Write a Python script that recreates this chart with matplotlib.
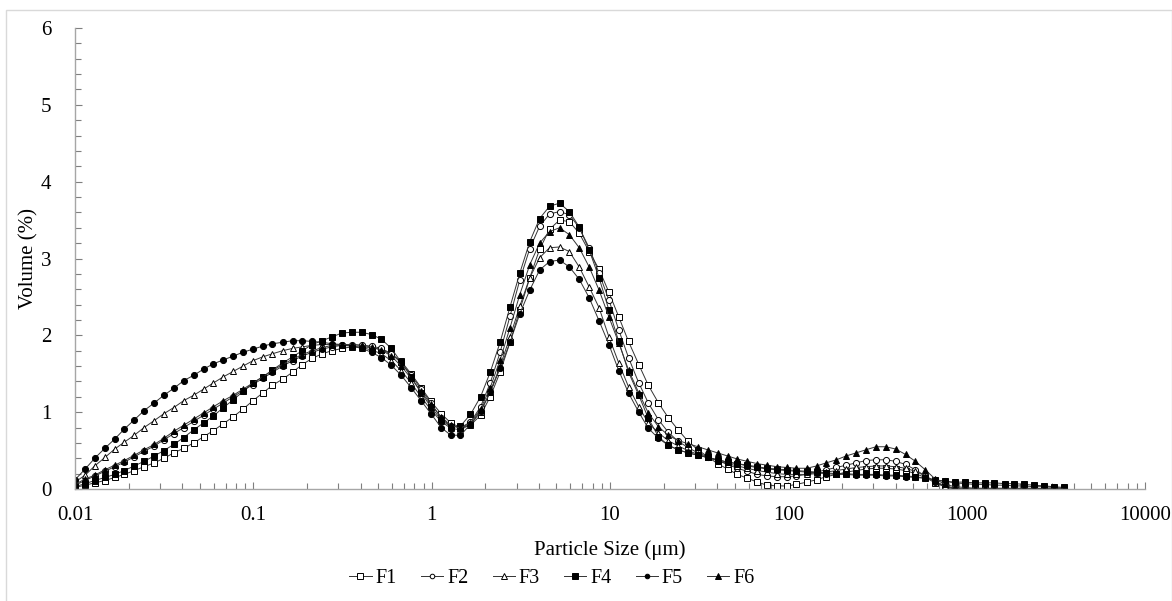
import matplotlib
matplotlib.use("Agg")
import matplotlib.pyplot as plt
from matplotlib.patches import Rectangle
from matplotlib.ticker import FixedLocator, LogLocator, NullFormatter, MultipleLocator

# particle size classes (um), laser diffraction bins
size = [0.0100, 0.0114, 0.0129, 0.0147, 0.0167, 0.0189, 0.0215, 0.0244, 0.0278, 0.0315,
        0.0358, 0.0407, 0.0463, 0.0526, 0.0597, 0.0679, 0.0771, 0.0876, 0.0995, 0.113,
        0.128, 0.146, 0.166, 0.188, 0.214, 0.243, 0.276, 0.314, 0.357, 0.405,
        0.460, 0.523, 0.594, 0.675, 0.767, 0.872, 0.991, 1.13, 1.28, 1.45,
        1.65, 1.88, 2.13, 2.42, 2.75, 3.12, 3.55, 4.03, 4.58, 5.21,
        5.92, 6.72, 7.64, 8.68, 9.86, 11.2, 12.7, 14.5, 16.4, 18.7,
        21.2, 24.1, 27.4, 31.1, 35.3, 40.1, 45.6, 51.8, 58.9, 66.9,
        76.0, 86.4, 98.1, 111, 127, 144, 163, 186, 211, 240,
        272, 310, 352, 400, 454, 516, 586, 666, 756, 859,
        976, 1110, 1260, 1430, 1630, 1850, 2100, 2390, 2710, 3080, 3500]

F1 = [0.02, 0.05, 0.08, 0.11, 0.15, 0.19, 0.24, 0.29, 0.34, 0.40, 0.47, 0.53, 0.60, 0.68, 0.76, 0.85, 0.94, 1.04, 1.15,
      1.25, 1.35, 1.43, 1.52, 1.62, 1.70, 1.76, 1.80, 1.83, 1.85, 1.85, 1.84, 1.81, 1.76, 1.66, 1.50, 1.32, 1.14,
      0.98, 0.86, 0.80, 0.83, 0.96, 1.20, 1.52, 1.91, 2.33, 2.75, 3.12, 3.38, 3.50, 3.48, 3.33, 3.09, 2.86, 2.56,
      2.24, 1.92, 1.62, 1.35, 1.12, 0.93,
      0.77, 0.62, 0.51, 0.42, 0.33, 0.26, 0.19, 0.14, 0.09, 0.05, 0.04, 0.04, 0.06, 0.09, 0.12, 0.16, 0.19, 0.22,
      0.24, 0.26, 0.27, 0.27, 0.26, 0.24, 0.20, 0.15, 0.08, 0.03, 0.00,
      0, 0, 0, 0, 0, 0, 0, 0, 0, 0, 0]
F2 = [0.05, 0.11, 0.17, 0.23, 0.29, 0.35, 0.42, 0.49, 0.56, 0.64, 0.72, 0.80, 0.88, 0.96, 1.04, 1.12, 1.20, 1.28, 1.36,
      1.44, 1.52, 1.60, 1.67, 1.73, 1.78, 1.82, 1.85, 1.87, 1.88, 1.87, 1.86, 1.83, 1.76, 1.64, 1.48, 1.30, 1.12,
      0.92, 0.82, 0.80, 0.87, 1.07, 1.38, 1.78, 2.25, 2.72, 3.13, 3.42, 3.58, 3.61, 3.57, 3.40, 3.14, 2.81, 2.46,
      2.07, 1.71, 1.38, 1.12, 0.90, 0.74,
      0.62, 0.54, 0.47, 0.42, 0.37, 0.32, 0.27, 0.23, 0.19, 0.17, 0.16, 0.16, 0.17, 0.19, 0.22, 0.25, 0.28, 0.31,
      0.34, 0.37, 0.38, 0.38, 0.36, 0.32, 0.25, 0.17, 0.09, 0.03, 0.00,
      0, 0, 0, 0, 0, 0, 0, 0, 0, 0, 0]
F3 = [0.09, 0.18, 0.30, 0.41, 0.52, 0.61, 0.70, 0.80, 0.89, 0.98, 1.06, 1.15, 1.22, 1.30, 1.38, 1.46, 1.53, 1.60, 1.67,
      1.72, 1.76, 1.80, 1.83, 1.85, 1.87, 1.88, 1.88, 1.87, 1.86, 1.84, 1.81, 1.76, 1.67, 1.54, 1.38, 1.20, 1.03,
      0.88, 0.79, 0.77, 0.84, 1.00, 1.26, 1.60, 1.98, 2.38, 2.75, 3.01, 3.14, 3.15, 3.09, 2.89, 2.63, 2.36, 1.98,
      1.64, 1.33, 1.07, 0.86, 0.73, 0.63,
      0.56, 0.50, 0.45, 0.41, 0.37, 0.33, 0.30, 0.27, 0.24, 0.22, 0.20, 0.19, 0.19, 0.19, 0.20, 0.22, 0.24, 0.26,
      0.28, 0.29, 0.30, 0.30, 0.29, 0.27, 0.23, 0.17, 0.10, 0.04, 0.01,
      0, 0, 0, 0, 0, 0, 0, 0, 0, 0, 0]
F4 = [0.03, 0.07, 0.11, 0.15, 0.19, 0.24, 0.30, 0.36, 0.43, 0.50, 0.58, 0.67, 0.77, 0.86, 0.95, 1.06, 1.16, 1.27, 1.38,
      1.46, 1.55, 1.64, 1.72, 1.80, 1.88, 1.93, 1.98, 2.03, 2.04, 2.04, 2.01, 1.95, 1.83, 1.65, 1.46, 1.25, 1.07,
      0.90, 0.81, 0.82, 0.97, 1.20, 1.52, 1.91, 2.37, 2.81, 3.22, 3.52, 3.68, 3.72, 3.61, 3.41, 3.11, 2.75, 2.33,
      1.92, 1.52, 1.22, 0.92, 0.68, 0.57,
      0.51, 0.47, 0.44, 0.41, 0.38, 0.35, 0.33, 0.31, 0.29, 0.27, 0.26, 0.25, 0.24, 0.23, 0.22, 0.21, 0.20, 0.20,
      0.19, 0.19, 0.19, 0.18, 0.18, 0.17, 0.16, 0.14, 0.12, 0.10, 0.09,
      0.09, 0.08, 0.08, 0.08, 0.07, 0.07, 0.06, 0.05, 0.04, 0.03, 0.02]
F5 = [0.12, 0.26, 0.40, 0.53, 0.65, 0.78, 0.90, 1.02, 1.12, 1.22, 1.31, 1.41, 1.48, 1.56, 1.63, 1.68, 1.73, 1.78, 1.82,
      1.86, 1.89, 1.91, 1.93, 1.93, 1.92, 1.91, 1.89, 1.88, 1.86, 1.83, 1.78, 1.71, 1.61, 1.48, 1.32, 1.15, 0.98,
      0.80, 0.70, 0.70, 0.84, 1.02, 1.26, 1.57, 1.91, 2.28, 2.59, 2.85, 2.96, 2.98, 2.89, 2.73, 2.49, 2.19, 1.88,
      1.54, 1.25, 1.00, 0.79, 0.66, 0.57,
      0.51, 0.47, 0.44, 0.41, 0.38, 0.35, 0.33, 0.30, 0.28, 0.26, 0.25, 0.24, 0.23, 0.22, 0.21, 0.20, 0.19, 0.19,
      0.18, 0.18, 0.18, 0.17, 0.17, 0.16, 0.15, 0.14, 0.12, 0.10, 0.08,
      0.07, 0.06, 0.06, 0.05, 0.05, 0.04, 0.04, 0.03, 0.03, 0.02, 0.01]
F6 = [0.06, 0.13, 0.18, 0.25, 0.31, 0.37, 0.44, 0.51, 0.58, 0.66, 0.75, 0.83, 0.91, 0.99, 1.07, 1.15, 1.22, 1.30, 1.38,
      1.46, 1.54, 1.62, 1.69, 1.75, 1.80, 1.84, 1.87, 1.88, 1.88, 1.87, 1.85, 1.81, 1.73, 1.60, 1.44, 1.27, 1.10,
      0.94, 0.83, 0.79, 0.86, 1.04, 1.32, 1.68, 2.10, 2.53, 2.92, 3.20, 3.35, 3.40, 3.31, 3.14, 2.89, 2.59, 2.24,
      1.90, 1.55, 1.25, 0.99, 0.81, 0.70,
      0.63, 0.59, 0.55, 0.51, 0.47, 0.43, 0.39, 0.36, 0.33, 0.31, 0.29, 0.28, 0.27, 0.27, 0.30, 0.34, 0.38, 0.43,
      0.47, 0.51, 0.55, 0.55, 0.52, 0.45, 0.36, 0.25, 0.13, 0.06, 0.03,
      0.02, 0.01, 0.01, 0.01, 0.01, 0.01, 0.01, 0.01, 0.00, 0.00, 0.00]

series = [("F1", F1, "s", "white"), ("F2", F2, "o", "white"), ("F3", F3, "^", "white"),
          ("F4", F4, "s", "black"), ("F5", F5, "o", "black"), ("F6", F6, "^", "black")]
xticks = [0.01, 0.1, 1, 10, 100, 1000, 10000]
xticklabels = ["0.01", "0.1", "1", "10", "100", "1000", "10000"]

plt.rcParams.update({"font.family": ["Liberation Serif", "DejaVu Serif"], "font.size": 15})
fig = plt.figure(figsize=(11.72, 6.01), dpi=100)
ax = fig.add_axes([75 / 1172, 112 / 601, 1070 / 1172, 461 / 601])

for name, vals, mk, fc in series:
    ms = 4.4 if mk == "o" else 5.0
    ax.plot(size, vals, color="#333333", lw=0.7, marker=mk, ms=ms,
            mfc=fc, mec="black", mew=0.7, label=name)

ax.set_xscale("log")
ax.set_xlim(0.01, 10000)
ax.set_ylim(0, 6)
ax.xaxis.set_major_locator(FixedLocator(xticks))
ax.set_xticklabels(xticklabels)
ax.xaxis.set_minor_locator(LogLocator(base=10, subs=range(2, 10), numticks=20))
ax.xaxis.set_minor_formatter(NullFormatter())
ax.yaxis.set_major_locator(MultipleLocator(1))
ax.yaxis.set_minor_locator(MultipleLocator(0.2))

for s in ["top", "right"]:
    ax.spines[s].set_visible(False)
for s in ["left", "bottom"]:
    ax.spines[s].set_color("#a6a6a6")
    ax.spines[s].set_linewidth(1.0)
ax.tick_params(which="both", direction="in", color="#7f7f7f", width=0.8)
ax.tick_params(which="major", length=5)
ax.tick_params(which="minor", length=4)
ax.tick_params(axis="x", pad=12)
ax.tick_params(axis="y", pad=17)

ax.set_xlabel("Particle Size (μm)", labelpad=11)
ax.set_ylabel("Volume (%)", labelpad=2)

fig.legend(loc="center", bbox_to_anchor=(552 / 1172, 1 - 578 / 601), ncol=6, frameon=False,
           fontsize=14.5, markerscale=0.75, handlelength=1.1, handletextpad=0.2, columnspacing=1.2)

fig.patches.append(Rectangle((6 / 1172, -0.01), 1166 / 1172, 1 - 10 / 601 + 0.01,
                             transform=fig.transFigure, fill=False, edgecolor="#d9d9d9", lw=1))

fig.savefig("out.png", dpi=100)
